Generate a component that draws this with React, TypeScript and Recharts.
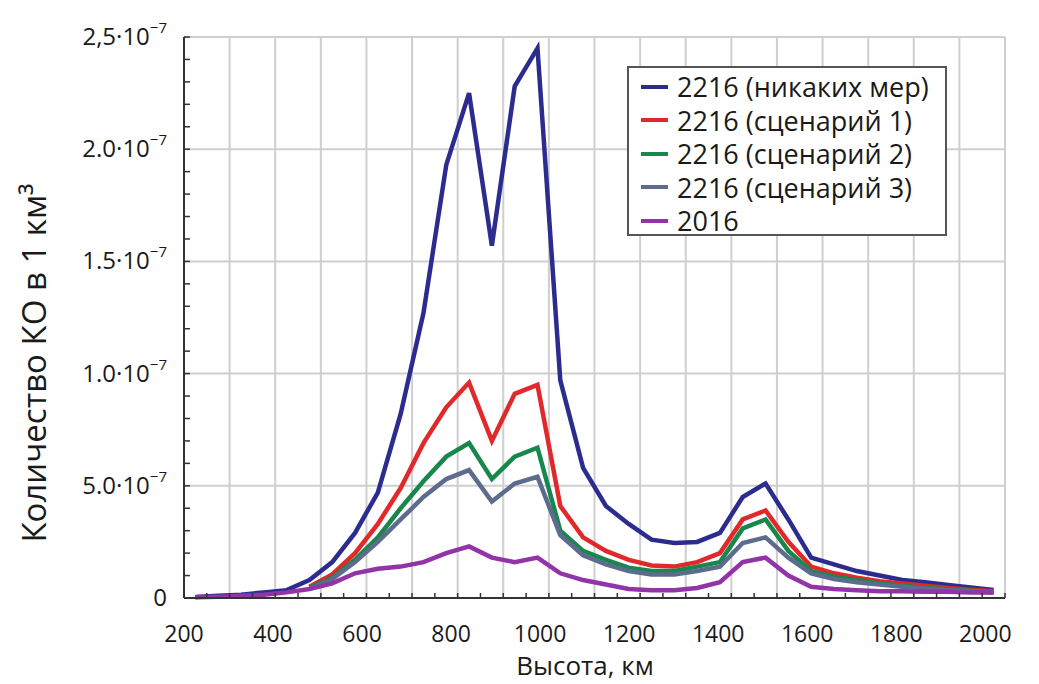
import { LineChart, Line, XAxis, YAxis, CartesianGrid, Legend } from 'recharts';

// высота, км (середины интервалов по 50 км)
const altitudes = [
  225, 275, 325, 375, 425, 475, 525, 575, 625, 675, 725, 775, 825, 875, 925, 975, 1025, 1075,
  1125, 1175, 1225, 1275, 1325, 1375, 1425, 1475, 1525, 1575, 1625, 1675, 1725, 1775, 1825, 1875, 1925, 1975,
];

// значения в единицах 10^-7
const noMeasures = [
  0.005, 0.01, 0.015, 0.025, 0.035, 0.08, 0.16, 0.29, 0.47, 0.82, 1.27, 1.93, 2.25, 1.57, 2.28, 2.45, 0.97, 0.58,
  0.41, 0.33, 0.26, 0.245, 0.25, 0.29, 0.45, 0.51, 0.35, 0.18, 0.15, 0.12, 0.1, 0.08, 0.07, 0.058, 0.047, 0.036,
];
const scenario1 = [
  null, null, null, null, null, 0.05, 0.105, 0.2, 0.33, 0.49, 0.69, 0.85, 0.96, 0.7, 0.91, 0.95, 0.41, 0.27,
  0.21, 0.17, 0.145, 0.14, 0.16, 0.2, 0.35, 0.39, 0.25, 0.14, 0.11, 0.09, 0.075, 0.065, 0.055, 0.045, 0.037, 0.03,
];
const scenario2 = [
  null, null, null, null, null, 0.045, 0.09, 0.17, 0.27, 0.4, 0.52, 0.63, 0.69, 0.53, 0.63, 0.67, 0.3, 0.21,
  0.17, 0.135, 0.12, 0.12, 0.14, 0.16, 0.31, 0.35, 0.21, 0.12, 0.095, 0.08, 0.065, 0.055, 0.045, 0.038, 0.032, 0.027,
];
const scenario3 = [
  null, null, null, null, null, 0.04, 0.085, 0.16, 0.25, 0.35, 0.45, 0.53, 0.57, 0.43, 0.51, 0.54, 0.28, 0.19,
  0.15, 0.12, 0.105, 0.105, 0.12, 0.14, 0.245, 0.27, 0.18, 0.11, 0.085, 0.07, 0.06, 0.05, 0.042, 0.036, 0.03, 0.025,
];
const year2016 = [
  0.003, 0.006, 0.01, 0.015, 0.025, 0.04, 0.065, 0.11, 0.13, 0.14, 0.16, 0.2, 0.23, 0.18, 0.16, 0.18, 0.11, 0.08,
  0.06, 0.04, 0.035, 0.035, 0.045, 0.07, 0.16, 0.18, 0.1, 0.05, 0.04, 0.035, 0.03, 0.03, 0.028, 0.028, 0.025, 0.025,
];

const seriesKeys = ['s0', 's1', 's2', 's3', 's4'];
const seriesNames = ['2216 (никаких мер)', '2216 (сценарий 1)', '2216 (сценарий 2)', '2216 (сценарий 3)', '2016'];
const seriesColors = ['#2c2c8e', '#e1282b', '#17874c', '#5d6b8c', '#9233a8'];

const xTicks = [
  200, 250, 300, 350, 400, 450, 500, 550, 600, 650, 700, 750, 800, 850, 900, 950, 1000, 1050, 1100,
  1150, 1200, 1250, 1300, 1350, 1400, 1450, 1500, 1550, 1600, 1650, 1700, 1750, 1800, 1850, 1900, 1950, 2000,
];
const xLabeled = [200, 400, 600, 800, 1000, 1200, 1400, 1600, 1800, 2000];
const xGrid = [300, 400, 500, 600, 700, 800, 900, 1000, 1100, 1200, 1300, 1400, 1500, 1600, 1700, 1800, 1900, 2000];

const yTicks = [
  0, 0.1, 0.2, 0.3, 0.4, 0.5, 0.6, 0.7, 0.8, 0.9, 1, 1.1, 1.2, 1.3, 1.4, 1.5, 1.6, 1.7, 1.8, 1.9, 2, 2.1, 2.2, 2.3, 2.4, 2.5,
];
const yLabels: { [k: string]: string } = { '0': '0', '0.5': '5.0·10', '1': '1.0·10', '1.5': '1.5·10', '2': '2.0·10', '2.5': '2,5·10' };
const yGrid = [0.5, 1, 1.5, 2, 2.5];

const data = altitudes.map((h, i) => ({
  h,
  s0: noMeasures[i],
  s1: scenario1[i],
  s2: scenario2[i],
  s3: scenario3[i],
  s4: year2016[i],
}));

const font = '"Open Sans", sans-serif';

const XTick = (props: any) => {
  const { x, y, payload } = props;
  const v = payload.value;
  const labeled = xLabeled.includes(v);
  const shift = -(x - 176) * 0.024;
  return (
    <g>
      <line x1={x} y1={y} x2={x} y2={y - 5} stroke="#333" strokeWidth={1.5} />
      {labeled && (
        <text x={x + shift} y={y + 44} textAnchor="middle" fontFamily={font} fontSize={23} fill="#1a1a1a">
          {v}
        </text>
      )}
    </g>
  );
};

const YTick = (props: any) => {
  const { x, y, payload } = props;
  const key = String(Math.round(payload.value * 10) / 10);
  const label = yLabels[key];
  return (
    <g>
      <line x1={x} y1={y} x2={x + 6} y2={y} stroke="#333" strokeWidth={1.5} />
      {label && (
        <text x={x - 17} y={y + 8} textAnchor="end" fontFamily={font} fontSize={24} fill="#1a1a1a">
          {label}
          {key !== '0' && (
            <tspan fontSize={15} dy={-12}>
              −7
            </tspan>
          )}
        </text>
      )}
    </g>
  );
};

const renderLegend = () => (
  <div
    style={{
      boxSizing: 'border-box',
      width: 320,
      height: 170,
      border: '2px solid #555',
      background: '#fff',
      padding: '2px 0 0 12px',
      fontFamily: font,
      fontSize: 27,
      lineHeight: '33.5px',
      color: '#1a1a1a',
      whiteSpace: 'nowrap',
    }}
  >
    {seriesNames.map((name, i) => (
      <div key={name} style={{ display: 'flex', alignItems: 'center' }}>
        <span style={{ display: 'inline-block', width: 27, height: 4, background: seriesColors[i], marginRight: 9 }} />
        {name}
      </div>
    ))}
  </div>
);

export default function App() {
  return (
    <LineChart width={1023} height={676} data={data} margin={{ top: 29, right: 26, bottom: 0, left: 0 }}>
      <CartesianGrid stroke="#cfcfcf" strokeWidth={2} horizontalValues={yGrid} verticalValues={xGrid} />
      <XAxis
        type="number"
        dataKey="h"
        domain={[200, 2000]}
        ticks={xTicks}
        interval={0}
        height={86}
        tickSize={0}
        tickMargin={0}
        tickLine={false}
        axisLine={{ stroke: '#333', strokeWidth: 2 }}
        tick={<XTick />}
        label={{
          content: () => (
            <text x={577} y={667} textAnchor="middle" fontFamily={font} fontSize={26} fill="#1a1a1a">
              Высота, км
            </text>
          ),
        }}
      />
      <YAxis
        type="number"
        domain={[0, 2.5]}
        ticks={yTicks}
        interval={0}
        width={176}
        tickSize={0}
        tickMargin={0}
        tickLine={false}
        axisLine={{ stroke: '#333', strokeWidth: 2 }}
        tick={<YTick />}
        label={{
          content: () => (
            <text
              x={38}
              y={355}
              transform="rotate(-90 38 355)"
              textAnchor="middle"
              fontFamily={font}
              fontSize={33}
              fill="#1a1a1a"
            >
              Количество КО в 1 км³
            </text>
          ),
        }}
      />
      <Legend
        layout="vertical"
        align="center"
        verticalAlign="middle"
        wrapperStyle={{ left: 619, top: 58 }}
        content={renderLegend}
      />
      {seriesKeys.map((k, i) => (
        <Line
          key={k}
          dataKey={k}
          name={seriesNames[i]}
          stroke={seriesColors[i]}
          strokeWidth={4.5}
          dot={false}
          type="linear"
          isAnimationActive={false}
        />
      ))}
    </LineChart>
  );
}
